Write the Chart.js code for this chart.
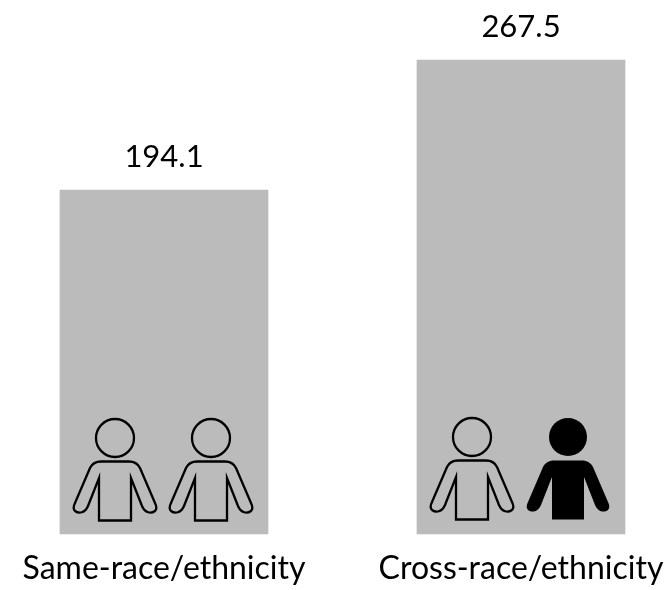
<!DOCTYPE html>
<html><head><meta charset="utf-8">
<style>html,body{margin:0;padding:0;background:#fff;overflow:hidden}#w{position:absolute;left:0;top:0;width:667px;height:590px}</style>
<script src="https://cdn.jsdelivr.net/npm/chart.js@4"></script></head>
<body><div id="w"><canvas id="c" width="667" height="590"></canvas></div>
<script>
const categories = ["Same-race/ethnicity", "Cross-race/ethnicity"];
const values = [194.1, 267.5];
const valueLabels = ["194.1", "267.5"];
const secondFigureFilled = [false, true];
const FONT = '"Lato","Open Sans",sans-serif';

function person(ctx, cx, top, filled) {
  ctx.save();
  ctx.translate(cx, top);
  ctx.lineWidth = 2.3;
  ctx.strokeStyle = '#000';
  ctx.fillStyle = '#000';
  ctx.lineJoin = 'miter';
  ctx.beginPath();
  ctx.arc(0, 20, 19, 0, Math.PI * 2);
  ctx.closePath();
  if (filled) ctx.fill(); else ctx.stroke();
  ctx.beginPath();
  ctx.moveTo(-16, 102.5);
  ctx.lineTo(-16, 60);
  ctx.lineTo(-27, 88);
  ctx.bezierCurveTo(-30, 95, -36, 96, -40, 93);
  ctx.bezierCurveTo(-42, 91, -41.5, 88, -40, 85);
  ctx.lineTo(-25, 50);
  ctx.bezierCurveTo(-23, 46, -19, 43.5, -14, 43.5);
  ctx.lineTo(14, 43.5);
  ctx.bezierCurveTo(19, 43.5, 23, 46, 25, 50);
  ctx.lineTo(40, 85);
  ctx.bezierCurveTo(41.5, 88, 42, 91, 40, 93);
  ctx.bezierCurveTo(36, 96, 30, 95, 27, 88);
  ctx.lineTo(16, 60);
  ctx.lineTo(16, 102.5);
  ctx.closePath();
  if (filled) ctx.fill(); else ctx.stroke();
  ctx.restore();
}

const overlay = {
  id: 'overlay',
  afterDatasetsDraw(chart) {
    const ctx = chart.ctx, m = chart.getDatasetMeta(0);
    const base = chart.scales.y.getPixelForValue(0);
    ctx.save();
    ctx.fillStyle = '#000';
    ctx.font = '31px ' + FONT;
    ctx.textAlign = 'center';
    ctx.textBaseline = 'alphabetic';
    m.data.forEach((bar, i) => {
      ctx.fillText(valueLabels[i], bar.x, bar.y - 23);
      const top = base - 116 - i;
      person(ctx, bar.x - 49, top, false);
      person(ctx, bar.x + 47, top, secondFigureFilled[i]);
    });
    ctx.restore();
  }
};

new Chart(document.getElementById('c'), {
  type: 'bar',
  data: { labels: categories, datasets: [{ data: values, backgroundColor: '#bbbbbb', barThickness: 208, clip: false }] },
  options: {
    responsive: false, animation: false,
    layout: { padding: { left: 164, right: 146, top: 60, bottom: 0 } },
    plugins: { legend: { display: false }, tooltip: { enabled: false } },
    scales: {
      x: { position: 'bottom', offset: false, grid: { display: false, drawTicks: false }, border: { display: false },
           afterFit(s) { s.paddingLeft = 0; s.paddingRight = 0; s.height = 56; },
           ticks: { color: '#000', font: { family: FONT, size: 32 }, padding: 15, maxRotation: 0, minRotation: 0, autoSkip: false, align: 'center' } },
      y: { display: false, min: 0, max: 267.5 }
    }
  },
  plugins: [overlay]
});
</script></body></html>
